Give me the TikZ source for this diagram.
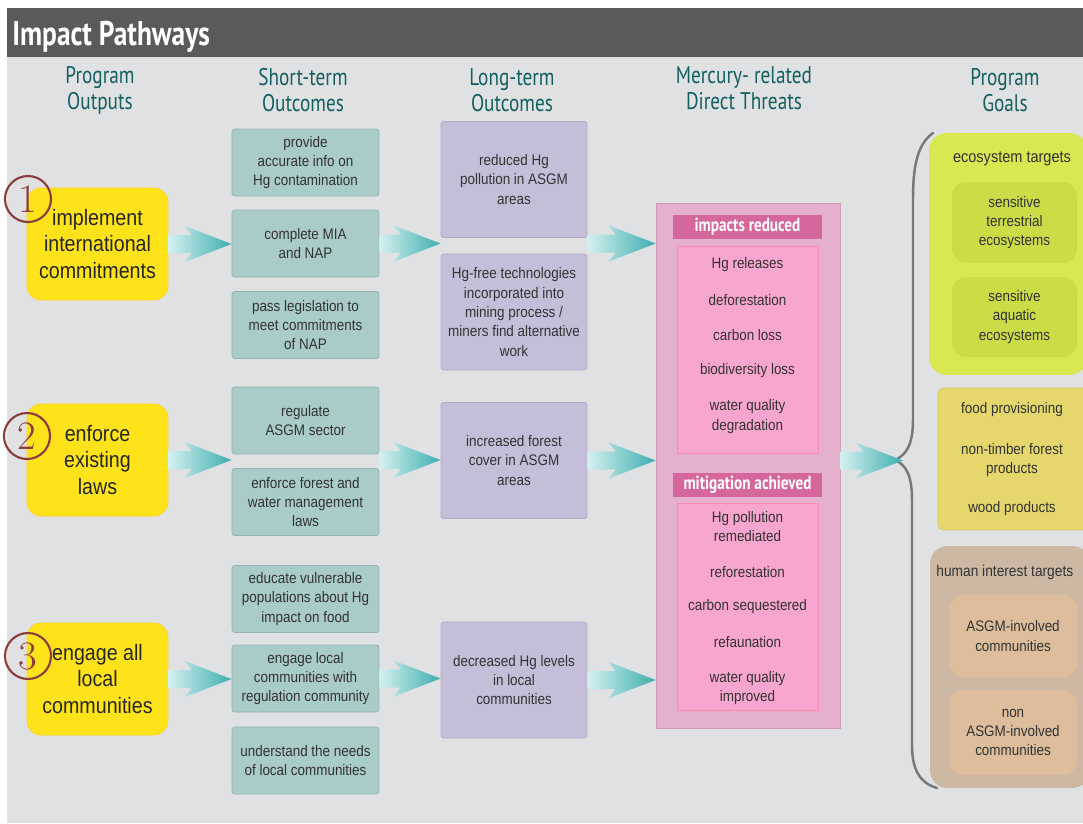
\documentclass[tikz,border=0pt]{standalone}
\usepackage{fontspec}
\usepackage{tikz}
\usetikzlibrary{calc}
\newfontfamily\headfont[FakeStretch=0.8]{PT Sans}
\newfontfamily\boxfont[FakeStretch=0.88]{Liberation Sans}

\definecolor{bggray}{HTML}{DFE1E3}
\definecolor{bargray}{HTML}{5A5A5C}
\definecolor{headteal}{HTML}{135F60}
\definecolor{outyellow}{HTML}{FFE31A}
\definecolor{shortteal}{HTML}{A9CCC9}
\definecolor{longlilac}{HTML}{C5BED9}
\definecolor{threatpink}{HTML}{E5B0CD}
\definecolor{titlepink}{HTML}{D6679C}
\definecolor{itempink}{HTML}{F8A5CF}
\definecolor{ecogreen}{HTML}{D9E750}
\definecolor{ecoinner}{HTML}{CBDC47}
\definecolor{foodgold}{HTML}{E5D76C}
\definecolor{humantan}{HTML}{CDB9A3}
\definecolor{humaninner}{HTML}{DDBD9C}
\definecolor{arrowteal}{HTML}{3FAEAF}
\definecolor{arrowlight}{HTML}{D4F0F0}
\definecolor{numbrown}{HTML}{8C3B3D}
\definecolor{bracegray}{HTML}{76787A}
\definecolor{boxtext}{HTML}{333333}

\tikzset{
  colhead/.style={text=headteal, align=center, font=\headfont\fontsize{13.7}{14.7}\selectfont},
  boxtxt/.style={text=boxtext, align=center, inner sep=0, font=\boxfont\fontsize{8.7}{11}\selectfont},
  outbox/.style={fill=outyellow, draw=outyellow!85!orange, rounded corners=8pt, align=center, inner sep=0,
    minimum width=2.82cm, minimum height=2.24cm, text=black!85, font=\boxfont\fontsize{12.7}{15}\selectfont},
  shortbox/.style={boxtxt, fill=shortteal, draw=shortteal!88!black, rounded corners=1.5pt,
    minimum width=2.94cm, minimum height=1.34cm},
  longbox/.style={boxtxt, fill=longlilac, draw=longlilac!90!black, rounded corners=1.5pt,
    minimum width=2.92cm, minimum height=2.32cm},
  numcirc/.style={circle, draw=numbrown, line width=1.2pt, text=numbrown, inner sep=0,
    minimum size=0.92cm, font=\rmfamily\fontsize{23}{23}\selectfont},
  bartitle/.style={fill=titlepink, text=white, inner sep=0, minimum width=2.98cm, minimum height=0.48cm,
    font=\headfont\bfseries\fontsize{10.8}{12}\selectfont},
  itembox/.style={fill=itempink, draw=itempink!85!red, minimum width=2.82cm, minimum height=4.14cm, inner sep=0},
  goaltitle/.style={boxtxt, font=\boxfont\fontsize{9.4}{11}\selectfont},
}

% fat shaded arrow, tail and tip on one level
\newcommand{\flowarrow}[2]{%
  \shade[left color=arrowlight, middle color=arrowteal!88!white, right color=arrowteal]
    ($#1+(0,-9)$) -- ($#2+(-40,-9)$) -- ($#2+(-47,-18)$) -- #2
    -- ($#2+(-47,18)$) -- ($#2+(-40,9)$) -- ($#1+(0,9)$) -- cycle;}

\begin{document}
\begin{tikzpicture}[x=0.02cm, y=-0.02cm]
    \useasboundingbox (0,0) rectangle (1083,823);
    \clip (0,0) rectangle (1083,823);
    \fill[white] (0,0) rectangle (1083,823);
    \fill[bggray] (7,57) rectangle (1083,823);
    \fill[bargray] (7,8) rectangle (1083,57);
    \node[anchor=base west, text=white, inner sep=0, font=\headfont\bfseries\fontsize{19.5}{20}\selectfont]
        (title) at (12,45) {Impact Pathways};

    % column heads
    \node[colhead] (hout) at (100,90) {Program\\Outputs};
    \node[colhead] (hshort) at (303,90) {Short-term\\Outcomes};
    \node[colhead] (hlong) at (512,90) {Long-term\\Outcomes};
    \node[colhead] (hthreat) at (744,88) {Mercury- related\\Direct Threats};
    \node[colhead] (hgoal) at (1005,90) {Program\\Goals};

    % program outputs
    \node[outbox] (po1) at (97.5,244) {implement\\international\\commitments};
    \node[outbox] (po2) at (97.5,460) {enforce\\existing\\laws};
    \node[outbox] (po3) at (97.5,679) {engage all\\local\\communities};
    \foreach \xx/\yy [count=\i] in {28/199, 27/436, 28/656}
        \node[numcirc] (num\i) at (\xx,\yy) {\i};

    % short-term outcomes
    \foreach \yy/\txt [count=\i] in {162.5/{provide\\accurate info on\\Hg contamination},
        243.5/{complete MIA\\and NAP}, 325/{pass legislation to\\meet commitments\\of NAP},
        420.5/{regulate\\ASGM sector}, 502/{enforce forest and\\water management\\laws},
        599/{educate vulnerable\\populations about Hg\\impact on food},
        678.5/{engage local\\communities with\\regulation community},
        760.5/{understand the needs\\of local communities}}
        \node[shortbox] (so\i) at (305.5,\yy) {\txt};

    % long-term outcomes
    \node[longbox] (lo1) at (514,179.5) {reduced Hg\\pollution in ASGM\\areas};
    \node[longbox] (lo2) at (514,312) {Hg-free technologies\\incorporated into\\mining process /\\miners find alternative\\work};
    \node[longbox] (lo3) at (514,460.5) {increased forest\\cover in ASGM\\areas};
    \node[longbox] (lo4) at (514,680) {decreased Hg levels\\in local\\communities};

    % direct threats
    \node[fill=threatpink, draw=threatpink!90!black, minimum width=3.68cm, minimum height=10.5cm]
        (threats) at (748,465.5) {};
    \node[bartitle] (irtitle) at (747.5,227) {impacts reduced};
    \node[itembox] (irbox) at (747.5,349.5) {};
    \foreach \yy/\txt [count=\i] in {265/Hg releases, 300/deforestation, 335/carbon loss,
        371/biodiversity loss, 416.5/{water quality\\degradation}}
        \node[boxtxt] (ir\i) at (747.5,\yy) {\txt};
    \node[bartitle] (matitle) at (747.5,484.5) {mitigation achieved};
    \node[itembox] (mabox) at (747.5,606.5) {};
    \foreach \yy/\txt [count=\i] in {526.5/{Hg pollution\\remediated}, 572/reforestation,
        607/carbon sequestered, 642/refaunation, 688/{water quality\\improved}}
        \node[boxtxt] (ma\i) at (747.5,\yy) {\txt};

    % program goals
    \node[fill=ecogreen, rounded corners=10pt, minimum width=3.16cm, minimum height=4.84cm] (eco) at (1008,254) {};
    \node[goaltitle] (ecotitle) at (1012,159) {ecosystem targets};
    \node[boxtxt, fill=ecoinner, rounded corners=8pt, minimum width=2.5cm, minimum height=1.62cm]
        (eco1) at (1014.5,222.5) {sensitive\\terrestrial\\ecosystems};
    \node[boxtxt, fill=ecoinner, rounded corners=8pt, minimum width=2.5cm, minimum height=1.6cm]
        (eco2) at (1014.5,317) {sensitive\\aquatic\\ecosystems};

    \node[fill=foodgold, draw=foodgold!92!black, rounded corners=3pt, minimum width=3.04cm, minimum height=2.84cm]
        (food) at (1014,459) {};
    \node[boxtxt] (food1) at (1012,410) {food provisioning};
    \node[boxtxt] (food2) at (1012,460) {non-timber forest\\products};
    \node[boxtxt] (food3) at (1012,509) {wood products};

    \node[fill=humantan, rounded corners=10pt, minimum width=3.2cm, minimum height=4.84cm] (human) at (1010,667) {};
    \node[goaltitle, anchor=west, font=\boxfont\fontsize{8.9}{11}\selectfont]
        (humantitle) at (936,572) {human interest targets};
    \node[boxtxt, fill=humaninner, rounded corners=8pt, minimum width=2.56cm, minimum height=1.64cm]
        (human1) at (1013,636) {ASGM-involved\\communities};
    \node[boxtxt, fill=humaninner, rounded corners=8pt, minimum width=2.56cm, minimum height=1.7cm]
        (human2) at (1013,732.5) {non\\ASGM-involved\\communities};

    % brace
    \draw[bracegray, line width=1.4pt, line cap=round]
        (933,133) .. controls (916,145) and (913,170) .. (913,200) -- (913,420)
        .. controls (913,445) and (906,455) .. (895,460)
        .. controls (906,465) and (912,475) .. (912,500) -- (912,745)
        .. controls (912,770) and (920,783) .. (937,788);
    \coordinate (bracetip) at (903,460.5);

    % arrows
    \flowarrow{(po1.east)}{(so2.west |- po1.east)}
    \flowarrow{(so2.east)}{(lo1.west |- so2.east)}
    \flowarrow{(lo1.east |- so2.east)}{(threats.west |- so2.east)}
    \flowarrow{(po2.east)}{(so4.west |- po2.east)}
    \flowarrow{(so4.east |- po2.east)}{(lo3.west |- po2.east)}
    \flowarrow{(lo3.east)}{(threats.west |- lo3.east)}
    \flowarrow{(po3.east)}{(so7.west |- po3.east)}
    \flowarrow{(so7.east)}{(lo4.west |- so7.east)}
    \flowarrow{(lo4.east)}{(threats.west |- lo4.east)}
    \flowarrow{(threats.east |- lo3.east)}{(bracetip)}
\end{tikzpicture}
\end{document}
